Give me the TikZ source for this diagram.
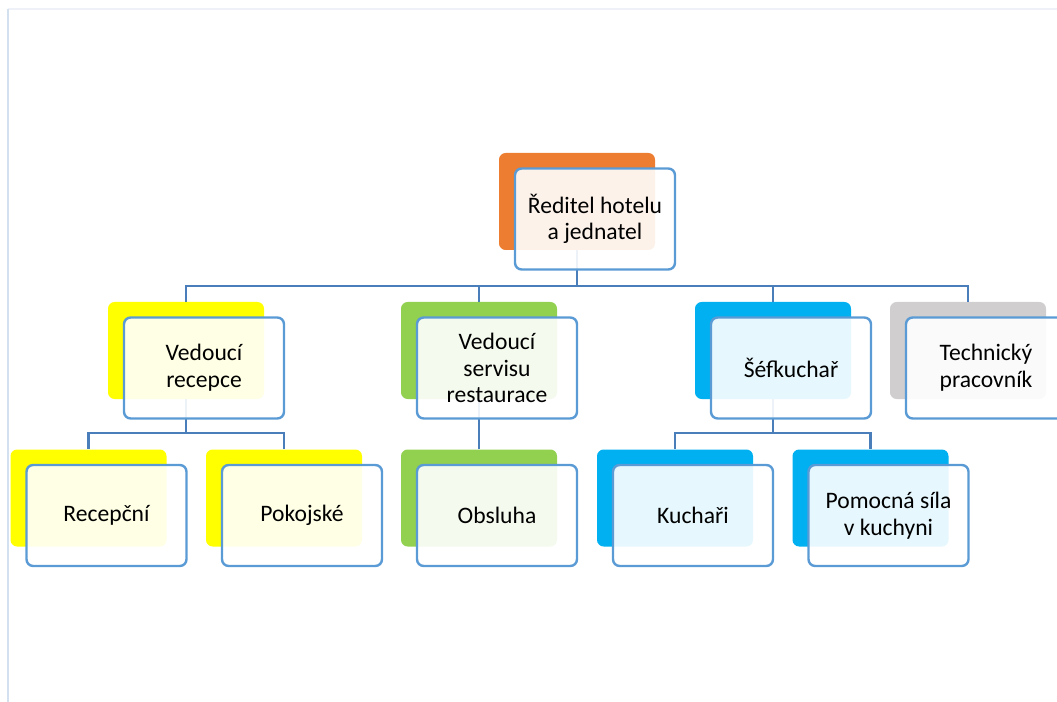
\documentclass[tikz,border=0pt]{standalone}
\usepackage{fontspec}
\setmainfont{Carlito}
\definecolor{cOrange}{HTML}{ED7D31}
\definecolor{cYellow}{HTML}{FFFF00}
\definecolor{cGreen}{HTML}{92D050}
\definecolor{cBlue}{HTML}{00B0F0}
\definecolor{cGray}{HTML}{D0CECE}
\definecolor{cBorder}{HTML}{5B9BD5}
\definecolor{cConn}{HTML}{4A7EBB}
\definecolor{cPage}{HTML}{D3E0EF}
\definecolor{cPageTop}{HTML}{EEF2F8}
\tikzset{
  backbox/.style={rectangle, rounded corners=5pt, draw=none, fill=#1,
    minimum width=117pt, minimum height=72.75pt, inner sep=0pt},
  frontbox/.style={rectangle, rounded corners=5pt, draw=cBorder, line width=1.8pt,
    fill=white, fill opacity=0.9, text opacity=1, draw opacity=1,
    minimum width=120pt, minimum height=75.75pt, inner sep=0pt,
    align=center, font=\fontsize{17.7}{20}\selectfont},
  conn/.style={draw=cConn, line width=2pt},
}
\begin{document}
\begin{tikzpicture}[x=0.75pt, y=-0.75pt]
\useasboundingbox (0,0) rectangle (1057,702);
% page edge
\draw[cPageTop, line width=1pt] (8,9) -- (1057,9);
\draw[cPage, line width=1.5pt] (8,9) -- (8,702);
% back boxes
\node[backbox=cOrange] (b0) at (577,201.5) {};
\node[backbox=cYellow] (b1) at (186,350.5) {};
\node[backbox=cGreen]  (b2) at (479,350.5) {};
\node[backbox=cBlue]   (b3) at (773,350.5) {};
\node[backbox=cGray]   (b4) at (968,350.5) {};
\node[backbox=cYellow] (b5) at (88.5,498) {};
\node[backbox=cYellow] (b6) at (284,498) {};
\node[backbox=cGreen]  (b7) at (479,498) {};
\node[backbox=cBlue]   (b8) at (675,498) {};
\node[backbox=cBlue]   (b9) at (870.5,498) {};
% bar coordinates
\coordinate (bar0) at (577,286);
\coordinate (bar1) at (186,433);
\coordinate (bar3) at (773,433);
% connectors
\draw[conn] (b0.south) |- (b1.north |- bar0) -- (b1.north);
\draw[conn] (b0.south) |- (b4.north |- bar0) -- (b4.north);
\draw[conn] (b2.north |- bar0) -- (b2.north);
\draw[conn] (b3.north |- bar0) -- (b3.north);
\draw[conn] (b1.south) |- (b5.north |- bar1) -- (b5.north);
\draw[conn] (b1.south) |- (b6.north |- bar1) -- (b6.north);
\draw[conn] (b2.south) -- (b7.north);
\draw[conn] (b3.south) |- (b8.north |- bar3) -- (b8.north);
\draw[conn] (b3.south) |- (b9.north |- bar3) -- (b9.north);
% front boxes
\node[frontbox] (f0) at ([shift={(18,17.5)}]b0.center) {Ředitel hotelu\\a jednatel};
\node[frontbox] (f1) at ([shift={(18,17.5)}]b1.center) {Vedoucí\\recepce};
\node[frontbox] (f2) at ([shift={(18,17.5)}]b2.center) {Vedoucí\\servisu\\restaurace};
\node[frontbox] (f3) at ([shift={(18,17.5)}]b3.center) {Šéfkuchař};
\node[frontbox] (f4) at ([shift={(18,17.5)}]b4.center) {Technický\\pracovník};
\node[frontbox] (f5) at ([shift={(18,17.5)}]b5.center) {Recepční};
\node[frontbox] (f6) at ([shift={(18,17.5)}]b6.center) {Pokojské};
\node[frontbox] (f7) at ([shift={(18,17.5)}]b7.center) {Obsluha};
\node[frontbox] (f8) at ([shift={(18,17.5)}]b8.center) {Kuchaři};
\node[frontbox] (f9) at ([shift={(18,17.5)}]b9.center) {Pomocná síla\\v kuchyni};
\end{tikzpicture}
\end{document}
